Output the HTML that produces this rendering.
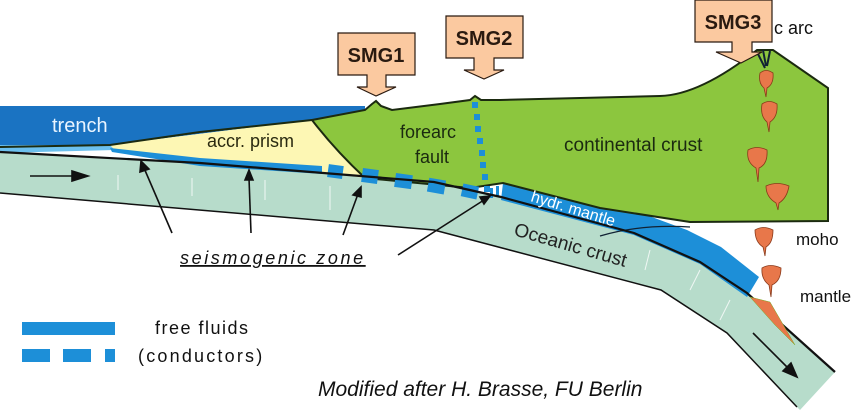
<!DOCTYPE html>
<html><head><meta charset="utf-8"><style>
body{margin:0;background:#fff}
svg{display:block}
text{font-family:"Liberation Sans",sans-serif}
</style></head><body>
<svg width="868" height="412" viewBox="0 0 868 412">
<polygon points="0,106 365,106 365,112 312,120 110,145 0,147" fill="#1a73c2"/>
<polygon points="0,145 110,145 115,150 0,153" fill="#6cc0ee"/>
<polygon points="0,152 200,163 434,182 501,197 634,233 700,262 747,293 835,372 800,410 797,407 727,333 661,290 434,230 0,193" fill="#b7dccb"/>
<polygon points="503,183 641,213 687,230 721,247 759,277 747,297 700,264 634,235 501,200" fill="#1d8fd8"/>
<path d="M600,236 Q640,224 690,227" stroke="#123" stroke-width="1.3" fill="none"/>
<polygon points="110,145 312,120 340,150 365,178 300,170 200,160 115,150" fill="#fdf7b4"/>
<path d="M312,120 L365,110 L372,104 L376,101 L381,106 L392,110 L440,104 L470,100 L475,96 L481,100 L500,100 L580,98 L660,96 Q700,95 757,50 L773,50 L828,88 L828,221 L690,222 L600,208 L503,183 L470,188 L365,178 Q335,150 312,120 Z" fill="#8cc63e" stroke="#1b2a10" stroke-width="2"/>
<path d="M0,147 L110,145 L200,132 L312,120" stroke="#1b2a10" stroke-width="2" fill="none"/>
<polygon points="110,148 200,158 322,166 322,174 200,166 112,152" fill="#1d8fd8"/>
<g fill="#1d8fd8">
<rect x="328" y="165" width="15" height="13" transform="rotate(8 335 171)"/>
<rect x="362" y="169" width="16" height="14" transform="rotate(8 370 176)"/>
<rect x="395" y="174" width="17" height="14" transform="rotate(8 403 181)"/>
<rect x="428" y="179" width="17" height="14" transform="rotate(10 436 186)"/>
<rect x="462" y="185" width="16" height="13" transform="rotate(12 470 191)"/>
<rect x="490" y="188" width="3" height="10"/>
<rect x="496" y="186" width="3" height="10"/>
</g>
<g fill="#1d8fd8">
<rect x="472" y="102" width="6" height="6"/><rect x="474" y="114" width="6" height="6"/><rect x="475" y="126" width="6" height="6"/><rect x="477" y="138" width="6" height="6"/><rect x="479" y="150" width="6" height="6"/><rect x="480" y="162" width="6" height="6"/><rect x="482" y="174" width="6" height="6"/><rect x="484" y="186" width="6" height="6"/>
</g>
<path d="M0,152 L200,163 L434,182 L501,197 L634,233 L700,262 L747,293 L835,372" stroke="#111" stroke-width="2.2" fill="none"/>
<path d="M0,193 L434,230 L661,290 L727,333 L797,407" stroke="#111" stroke-width="1.5" fill="none"/>
<g stroke="#fff" stroke-width="1" opacity="0.8">
<line x1="118" y1="175" x2="118" y2="190"/><line x1="192" y1="178" x2="192" y2="196"/><line x1="265" y1="180" x2="265" y2="200"/><line x1="330" y1="186" x2="330" y2="210"/><line x1="650" y1="250" x2="645" y2="270"/><line x1="700" y1="270" x2="690" y2="290"/><line x1="730" y1="300" x2="720" y2="320"/>
</g>
<polygon points="750,297 770,302 795,345 775,325" fill="#e8774a" stroke="#7a2" stroke-width="0.5"/>
<g stroke="#123" stroke-width="2" fill="none"><path d="M757,52 L765,68 M763,50 L766,66 M770,51 L767,66"/></g>
<g fill="#e8774a" stroke="#8a3a1a" stroke-width="0.8">
<path d="M760,73 Q766,68 773,73 Q774,84 767,88 L766,97 L764,88 Q758,83 760,73Z"/>
<path d="M762,104 Q769,99 777,104 Q778,117 770,122 L769,132 L767,122 Q760,116 762,104Z"/>
<path d="M748,150 Q757,145 767,150 Q768,164 759,168 L758,182 L756,168 Q746,162 748,150Z"/>
<path d="M766,186 Q777,181 789,186 Q787,198 779,203 L778,210 L776,203 Q766,197 766,186Z"/>
<path d="M755,230 Q763,225 773,230 Q773,243 766,247 L765,256 L763,247 Q755,242 755,230Z"/>
<path d="M762,268 Q770,263 781,268 Q781,281 772,285 L771,297 L769,285 Q761,279 762,268Z"/>
</g>
<g fill="#fbc9a0" stroke="#2a1a10" stroke-width="1.2">
<path d="M338,33 H415 V75 H386 V87 H396 L376,96 L357,87 H367 V75 H338 Z"/>
<path d="M446,16 H523 V58 H494 V70 H504 L484,79 L464,70 H474 V58 H446 Z"/>
<path d="M695,0 H772 V42 H752 V52 H762 L741,63 L716,52 H732 V42 H695 Z"/>
</g>
<g font-weight="bold" font-size="20" fill="#2a1a10">
<text x="376" y="62" text-anchor="middle">SMG1</text>
<text x="484" y="45" text-anchor="middle">SMG2</text>
<text x="733" y="29" text-anchor="middle">SMG3</text>
</g>
<text x="774" y="34" font-size="18" fill="#111">c arc</text>
<text x="52" y="132" font-size="20" fill="#e8f4ff">trench</text>
<text x="207" y="147" font-size="18" fill="#2a2a10">accr. prism</text>
<text x="400" y="138" font-size="18" fill="#1b2a10">forearc</text>
<text x="415" y="163" font-size="18" fill="#1b2a10">fault</text>
<text x="564" y="151" font-size="19" fill="#1b2a10">continental crust</text>
<text x="530" y="201" font-size="16" fill="#fff" transform="rotate(17 530 201)">hydr. mantle</text>
<text x="513" y="235" font-size="19" fill="#222" transform="rotate(16 513 235)">Oceanic crust</text>
<text x="796" y="245" font-size="17" fill="#111">moho</text>
<text x="800" y="302" font-size="17" fill="#111">mantle</text>
<text x="180" y="264" font-size="18" font-style="italic" letter-spacing="2.6" fill="#111" text-decoration="underline">seismogenic zone</text>
<g stroke="#111" stroke-width="1.6" fill="#111">
<line x1="172" y1="233" x2="144" y2="168"/><polygon points="141,161 140,172 149,169"/>
<line x1="251" y1="233" x2="249" y2="178"/><polygon points="249,170 245,180 253,180"/>
<line x1="343" y1="235" x2="358" y2="194"/><polygon points="361,187 353,195 361,197"/>
<line x1="398" y1="255" x2="484" y2="200"/><polygon points="490,196 480,197 484,204"/>
<line x1="30" y1="176" x2="75" y2="176"/><polygon points="88,176 72,171 72,181"/>
<line x1="753" y1="333" x2="788" y2="368"/><polygon points="797,377 783,371 791,363"/>
</g>
<rect x="22" y="322" width="93" height="13" fill="#1d8fd8"/>
<rect x="22" y="349" width="28" height="13" fill="#1d8fd8"/>
<rect x="63" y="349" width="28" height="13" fill="#1d8fd8"/>
<rect x="105" y="349" width="10" height="13" fill="#1d8fd8"/>
<text x="155" y="334" font-size="18" letter-spacing="1.5" fill="#111">free fluids</text>
<text x="138" y="362" font-size="18" letter-spacing="2.2" fill="#111">(conductors)</text>
<text x="318" y="396" font-size="21" font-style="italic" fill="#111">Modified after H. Brasse, FU Berlin</text>
</svg>
</body></html>
